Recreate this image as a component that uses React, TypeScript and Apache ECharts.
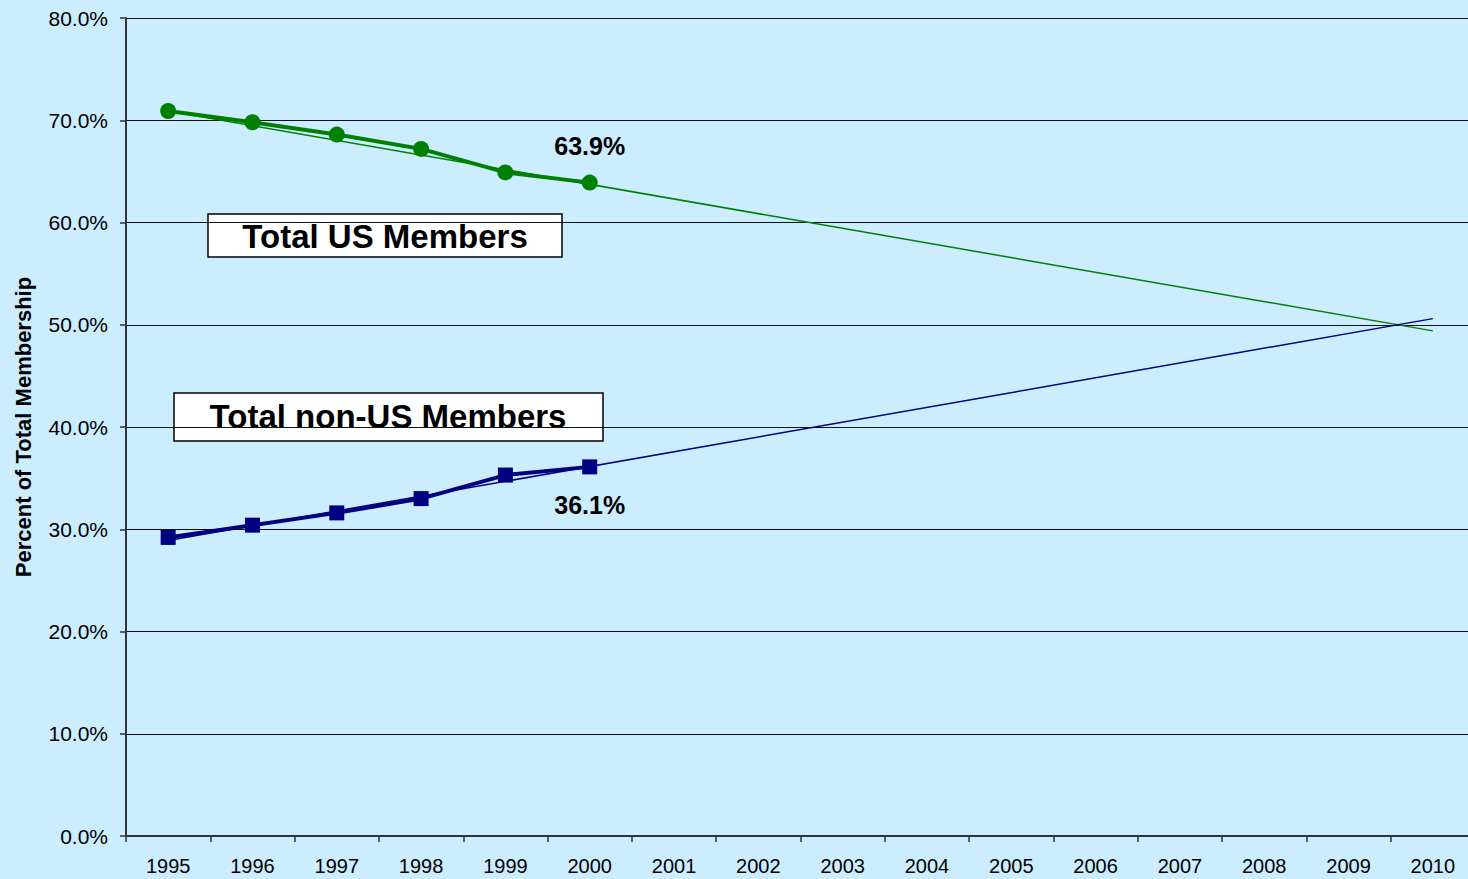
import React, { useEffect, useRef } from "react";
import * as echarts from "echarts";

const years = ["1995", "1996", "1997", "1998", "1999", "2000", "2001", "2002", "2003", "2004", "2005", "2006", "2007", "2008", "2009", "2010"];
const usMembers = [70.9, 69.8, 68.6, 67.2, 64.9, 63.9];
const nonUsMembers = [29.2, 30.4, 31.6, 33.0, 35.3, 36.1];
const usTrend = [70.9, null, null, null, null, null, null, null, null, null, null, null, null, null, null, 49.4];
const nonUsTrend = [28.9, null, null, null, null, null, null, null, null, null, null, null, null, null, null, 50.6];
const yTicks = [0, 10, 20, 30, 40, 50, 60, 70, 80];

const FONT = "'Liberation Sans', Arial, sans-serif";
const GREEN = "#008000";
const NAVY = "#000080";

export default function App() {
  const ref = useRef<HTMLDivElement>(null);
  useEffect(() => {
    document.body.style.margin = "0";
    document.body.style.overflow = "hidden";
    const chart = echarts.init(ref.current!, null, { renderer: "svg" });
    const lastLabel = (arr: number[], pos: string, dist: number) =>
      arr.map((v, i) =>
        i === arr.length - 1
          ? {
              value: v,
              label: {
                show: true,
                position: pos,
                distance: dist,
                formatter: (p: any) => p.value.toFixed(1) + "%",
                fontFamily: FONT,
                fontWeight: "bold",
                fontSize: 25,
                color: "#000",
              },
            }
          : v
      );
    chart.setOption({
      animation: false,
      backgroundColor: "#CCECFF",
      textStyle: { fontFamily: FONT },
      grid: { left: 126, top: 18, bottom: 43, right: 0, containLabel: false },
      xAxis: {
        type: "category",
        data: years,
        boundaryGap: true,
        axisLine: { lineStyle: { color: "#333", width: 2 } },
        axisTick: { show: true, length: 6, lineStyle: { color: "#333", width: 1.5 } },
        axisLabel: { fontSize: 20, color: "#000", margin: 20, fontFamily: FONT },
        splitLine: { show: false },
      },
      yAxis: {
        type: "value",
        min: yTicks[0],
        max: yTicks[yTicks.length - 1],
        interval: 10,
        name: "Percent of Total Membership",
        nameLocation: "middle",
        nameGap: 92,
        nameRotate: 90,
        nameTextStyle: { fontSize: 22, fontWeight: "bold", color: "#000", fontFamily: FONT },
        axisLine: { show: true, lineStyle: { color: "#333", width: 2 } },
        axisTick: { show: true, length: 6, lineStyle: { color: "#333", width: 1.5 } },
        axisLabel: {
          fontSize: 21,
          color: "#000",
          margin: 18,
          fontFamily: FONT,
          formatter: (v: number) => v.toFixed(1) + "%",
        },
        splitLine: { show: true, lineStyle: { color: "#111", width: 1 } },
      },
      series: [
        {
          type: "line",
          data: usTrend,
          connectNulls: true,
          symbol: "none",
          lineStyle: { color: GREEN, width: 1.5 },
          z: 2,
        },
        {
          type: "line",
          data: nonUsTrend,
          connectNulls: true,
          symbol: "none",
          lineStyle: { color: NAVY, width: 1.5 },
          z: 2,
        },
        {
          type: "line",
          data: lastLabel(usMembers, "top", 16),
          symbol: "circle",
          symbolSize: 16,
          lineStyle: { color: GREEN, width: 4 },
          itemStyle: { color: GREEN },
          z: 3,
        },
        {
          type: "line",
          data: lastLabel(nonUsMembers, "bottom", 18),
          symbol: "rect",
          symbolSize: 15,
          lineStyle: { color: NAVY, width: 4 },
          itemStyle: { color: NAVY },
          z: 3,
        },
      ],
      graphic: [
        {
          type: "group",
          z: 10,
          children: [
            {
              type: "rect",
              shape: { x: 208, y: 214, width: 354, height: 43 },
              style: { fill: "#fff", stroke: "#000", lineWidth: 1.5 },
            },
            {
              type: "text",
              x: 385,
              y: 236,
              style: {
                text: "Total US Members",
                fontFamily: FONT,
                fontWeight: "bold",
                fontSize: 33,
                fill: "#000",
                align: "center",
                verticalAlign: "middle",
              },
            },
            {
              type: "rect",
              shape: { x: 174, y: 393, width: 429, height: 48 },
              style: { fill: "#fff", stroke: "#000", lineWidth: 1.5 },
            },
            {
              type: "text",
              x: 388,
              y: 416,
              style: {
                text: "Total non-US Members",
                fontFamily: FONT,
                fontWeight: "bold",
                fontSize: 33,
                fill: "#000",
                align: "center",
                verticalAlign: "middle",
              },
            },
          ],
        },
      ],
    });
    return () => chart.dispose();
  }, []);
  return <div ref={ref} style={{ width: 1475, height: 879 }} />;
}
